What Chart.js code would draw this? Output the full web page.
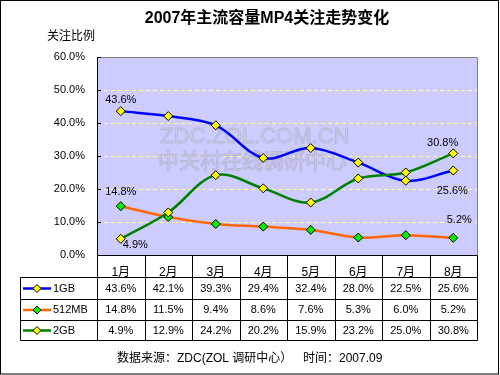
<!DOCTYPE html>
<html><head><meta charset="utf-8">
<script src="https://cdn.jsdelivr.net/npm/chart.js@4"></script>
<style>html,body{margin:0;padding:0;background:#fff}canvas{display:block}</style>
</head><body>
<canvas id="c" width="500" height="375"></canvas>
<script>
const months = ['1月','2月','3月','4月','5月','6月','7月','8月'];
const seriesNames = ['1GB','512MB','2GB'];
const gb1 = [43.6,42.1,39.3,29.4,32.4,28.0,22.5,25.6];
const mb512 = [14.8,11.5,9.4,8.6,7.6,5.3,6.0,5.2];
const gb2 = [4.9,12.9,24.2,20.2,15.9,23.2,25.0,30.8];
const yTicks = [0,10,20,30,40,50,60];
const titleText = '2007年主流容量MP4关注走势变化';
const yAxisTitle = '关注比例';
const sourceText = '数据来源：ZDC(ZOL 调研中心）';
const timeText = '时间：2007.09';
const watermark1 = 'ZDC.ZOL.COM.CN';
const watermark2 = '中关村在线调研中心';

const FAM = '"Liberation Sans", Arial, "Noto Sans CJK SC", sans-serif';
const seriesData = [gb1, mb512, gb2];
const lineColors = ['#0000FF', '#FF6600', '#008000'];
const markerColors = ['#FFFF00', '#00EE00', '#FFFF00'];
const pct = v => v.toFixed(1) + '%';

const pointLabels = [
  {ds:0, i:0, dx:0, dy:-11, align:'center'},
  {ds:1, i:0, dx:0, dy:-14, align:'center'},
  {ds:2, i:0, dx:2, dy:6, align:'left'},
  {ds:2, i:7, dx:5, dy:-10, align:'right'},
  {ds:0, i:7, dx:-1, dy:20, align:'center'},
  {ds:1, i:7, dx:6, dy:-18, align:'center'}
];

const px = v => Math.round(v) + 0.5;

const decor = {
  id: 'decor',
  beforeDraw(chart) {
    const {ctx, chartArea: a} = chart;
    ctx.save();
    ctx.fillStyle = '#fff';
    ctx.fillRect(0, 0, chart.width, chart.height);
    ctx.fillStyle = '#CCCCFF';
    ctx.fillRect(a.left, a.top, a.right - a.left, a.bottom - a.top);
    ctx.restore();
  },
  beforeDatasetsDraw(chart) {
    const {ctx} = chart;
    ctx.save();
    ctx.textAlign = 'left';
    ctx.textBaseline = 'middle';
    ctx.lineWidth = 1;
    ctx.font = '22px ' + FAM;
    ctx.fillStyle = 'rgba(208,208,238,0.9)';
    ctx.strokeStyle = 'rgba(160,160,185,0.5)';
    ctx.fillText(watermark1, 160, 137);
    ctx.strokeText(watermark1, 160, 137);
    ctx.font = '21px "Noto Sans CJK SC", sans-serif';
    ctx.fillText(watermark2, 158, 160);
    ctx.strokeText(watermark2, 158, 160);
    ctx.restore();
  },
  afterDraw(chart) {
    const {ctx, chartArea: a} = chart;
    const xs = chart.scales.x, ys = chart.scales.y;
    ctx.save();
    ctx.lineWidth = 1;
    ctx.strokeStyle = '#808080';
    ctx.beginPath();
    ctx.moveTo(px(a.left), px(a.top)); ctx.lineTo(px(a.right), px(a.top));
    ctx.lineTo(px(a.right), px(a.bottom));
    ctx.stroke();
    ctx.strokeStyle = '#000';
    ctx.beginPath();
    ctx.moveTo(px(a.left), px(a.top)); ctx.lineTo(px(a.left), px(a.bottom));
    yTicks.forEach(v => {
      const y = px(ys.getPixelForValue(v));
      ctx.moveTo(a.left, y); ctx.lineTo(a.left + 4, y);
    });
    ctx.stroke();

    const rows = [a.bottom, 277, 299, 320, 340];
    const tLeft = 20;
    const catW = (a.right - a.left) / months.length;
    ctx.beginPath();
    ctx.moveTo(px(a.left), px(rows[0])); ctx.lineTo(px(a.right), px(rows[0]));
    for (let r = 1; r < rows.length; r++) {
      ctx.moveTo(px(tLeft), px(rows[r])); ctx.lineTo(px(a.right), px(rows[r]));
    }
    for (let k = 0; k <= months.length; k++) {
      const x = px(a.left + k * catW);
      ctx.moveTo(x, px(rows[0])); ctx.lineTo(x, px(rows[4]));
    }
    ctx.moveTo(px(tLeft), px(rows[1])); ctx.lineTo(px(tLeft), px(rows[4]));
    ctx.stroke();

    ctx.font = '11px ' + FAM;
    ctx.fillStyle = '#000';
    ctx.textBaseline = 'middle';
    seriesData.forEach((arr, s) => {
      const yc = (rows[s + 1] + rows[s + 2]) / 2 + 0.5;
      ctx.strokeStyle = lineColors[s];
      ctx.lineWidth = 2.5;
      ctx.beginPath();
      ctx.moveTo(23, yc); ctx.lineTo(51, yc);
      ctx.stroke();
      ctx.lineWidth = 1;
      ctx.strokeStyle = '#000';
      ctx.fillStyle = markerColors[s];
      ctx.beginPath();
      ctx.moveTo(37, yc - 4); ctx.lineTo(41, yc); ctx.lineTo(37, yc + 4); ctx.lineTo(33, yc);
      ctx.closePath(); ctx.fill(); ctx.stroke();
      ctx.fillStyle = '#000';
      ctx.textAlign = 'left';
      ctx.fillText(seriesNames[s], 53, yc);
      ctx.textAlign = 'center';
      arr.forEach((v, i) => {
        ctx.fillText(pct(v), xs.getPixelForValue(i), yc);
      });
    });

    pointLabels.forEach(l => {
      const el = chart.getDatasetMeta(l.ds).data[l.i];
      ctx.textAlign = l.align;
      ctx.fillText(pct(seriesData[l.ds][l.i]), el.x + l.dx, el.y + l.dy);
    });

    ctx.textAlign = 'center';
    ctx.font = 'bold 16px ' + FAM;
    ctx.fillText(titleText, 267, 19);
    ctx.textAlign = 'left';
    ctx.font = '12px ' + FAM;
    ctx.fillText(yAxisTitle, 47, 37);
    ctx.fillText(sourceText, 117, 359);
    ctx.fillText(timeText, 303, 359);

    ctx.strokeStyle = '#000';
    ctx.strokeRect(0.5, 0.5, 498, 373.5);
    ctx.restore();
  }
};

const mkDs = (s, order) => ({
  label: seriesNames[s],
  data: seriesData[s],
  borderColor: lineColors[s],
  borderWidth: 2.5,
  pointStyle: 'rectRot',
  pointRadius: 4.5,
  pointBackgroundColor: markerColors[s],
  pointBorderColor: '#000',
  pointBorderWidth: 1,
  tension: 0.35,
  fill: false,
  order: order
});

new Chart(document.getElementById('c'), {
  type: 'line',
  data: { labels: months, datasets: [mkDs(0, 2), mkDs(1, 1), mkDs(2, 0)] },
  options: {
    responsive: false,
    devicePixelRatio: 1,
    animation: false,
    layout: { padding: { top: 57, right: 23, left: 0, bottom: 0 } },
    plugins: { legend: { display: false }, title: { display: false }, tooltip: { enabled: false } },
    scales: {
      x: {
        type: 'category',
        offset: true,
        afterFit(s) { s.height = 120; },
        grid: { display: false },
        border: { display: false },
        ticks: { font: { size: 12, family: FAM }, color: '#000', padding: 2, autoSkip: false, maxRotation: 0 }
      },
      y: {
        min: 0, max: 60,
        afterFit(s) { s.width = 97; },
        afterBuildTicks(s) { s.ticks = yTicks.map(v => ({ value: v })); },
        grid: {
          drawTicks: false,
          lineWidth: 1,
          color: c => (c.tick && c.tick.value > 0 && c.tick.value < 60) ? '#FFFF99' : 'rgba(0,0,0,0)'
        },
        border: { display: false, dash: [4, 3] },
        ticks: { font: { size: 11, family: FAM }, color: '#000', padding: 12, callback: v => pct(v) }
      }
    }
  },
  plugins: [decor]
});
</script>
</body></html>
